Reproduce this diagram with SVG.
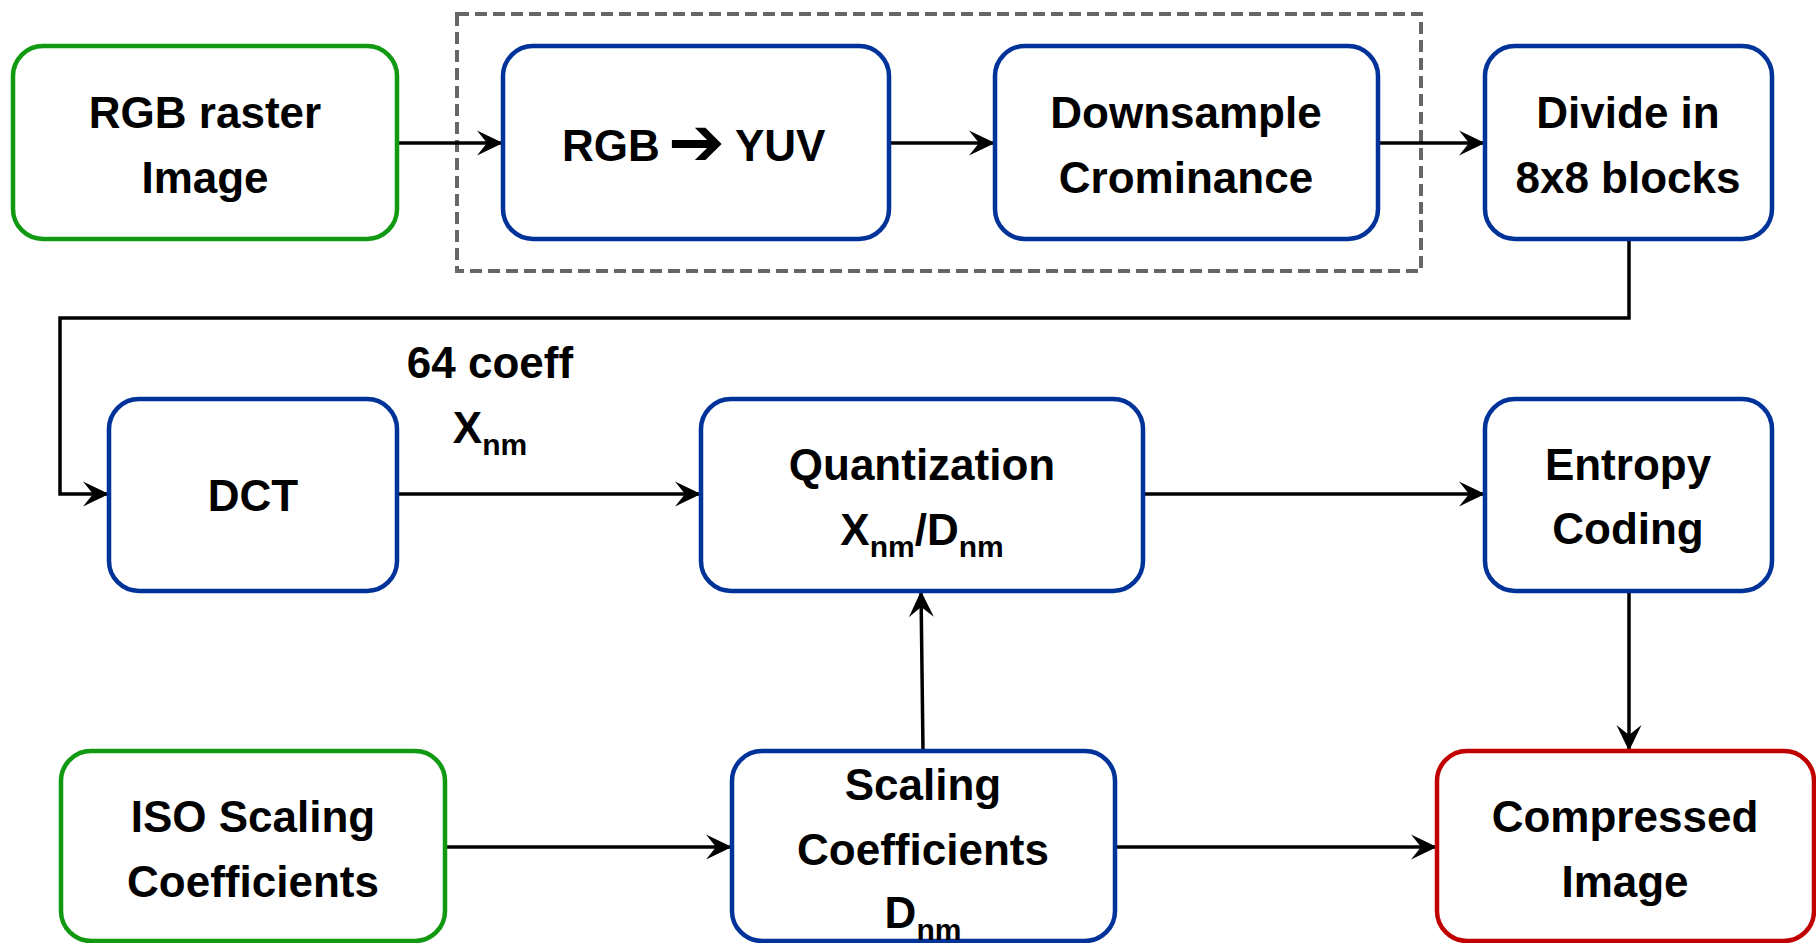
<svg xmlns="http://www.w3.org/2000/svg" width="1816" height="943" viewBox="0 0 1816 943">
  <style>
    .box { fill: #ffffff; stroke-width: 4.5; }
    .src { stroke: #119911; }
    .step { stroke: #003399; }
    .out { stroke: #c00000; }
    .lbl { font-family: "Liberation Sans", Arial, sans-serif; font-weight: bold; font-size: 44px; fill: #000000; text-anchor: middle; }
    .sub { font-size: 30px; }
    .wire { fill: none; stroke: #000000; stroke-width: 3.5; }
  </style>
  <defs>
    <marker id="head" markerUnits="userSpaceOnUse" viewBox="-27 -14 28 28" markerWidth="28" markerHeight="28" refX="0" refY="0" orient="auto">
      <path d="M0,0 L-26,-12.5 L-16,0 L-26,12.5 Z" fill="#000000"/>
    </marker>
  </defs>

  <rect width="1816" height="943" fill="#ffffff"/>

  <!-- colour-space stage grouping -->
  <rect id="colour-stage" x="457" y="14" width="964" height="257" fill="none" stroke="#666666" stroke-width="4" stroke-dasharray="12 6"/>

  <!-- connectors -->
  <g id="connectors">
    <line class="wire" x1="397" y1="143" x2="503" y2="143" marker-end="url(#head)"/>
    <line class="wire" x1="889" y1="143" x2="995" y2="143" marker-end="url(#head)"/>
    <line class="wire" x1="1378" y1="143" x2="1485" y2="143" marker-end="url(#head)"/>
    <polyline class="wire" points="1629,240 1629,318 60,318 60,494 109,494" marker-end="url(#head)"/>
    <line class="wire" x1="397" y1="494" x2="701" y2="494" marker-end="url(#head)"/>
    <line class="wire" x1="1143" y1="494" x2="1485" y2="494" marker-end="url(#head)"/>
    <line class="wire" x1="1629" y1="591" x2="1629" y2="751" marker-end="url(#head)"/>
    <line class="wire" x1="923" y1="751" x2="921" y2="591" marker-end="url(#head)"/>
    <line class="wire" x1="445" y1="847" x2="732" y2="847" marker-end="url(#head)"/>
    <line class="wire" x1="1115" y1="847" x2="1437" y2="847" marker-end="url(#head)"/>
  </g>

  <!-- edge label -->
  <g id="coeff-label">
    <text class="lbl" x="490" y="378">64 coeff</text>
    <text class="lbl" x="490" y="443">X<tspan class="sub" dy="12">nm</tspan></text>
  </g>

  <g id="rgb-raster">
    <rect class="box src" x="13" y="46" width="384" height="193" rx="30"/>
    <text class="lbl" x="205" y="128">RGB raster</text>
    <text class="lbl" x="205" y="193">Image</text>
  </g>

  <g id="rgb-yuv">
    <rect class="box step" x="503" y="46" width="386" height="193" rx="30"/>
    <text class="lbl" style="text-anchor:start" y="161"><tspan x="562">RGB</tspan><tspan x="668" y="165" font-family="DejaVu Sans, sans-serif" font-size="68">➔</tspan><tspan x="735" y="161">YUV</tspan></text>
  </g>

  <g id="downsample">
    <rect class="box step" x="995" y="46" width="383" height="193" rx="30"/>
    <text class="lbl" x="1186" y="128">Downsample</text>
    <text class="lbl" x="1186" y="193">Crominance</text>
  </g>

  <g id="divide">
    <rect class="box step" x="1485" y="46" width="287" height="193" rx="30"/>
    <text class="lbl" x="1628" y="128">Divide in</text>
    <text class="lbl" x="1628" y="193">8x8 blocks</text>
  </g>

  <g id="dct">
    <rect class="box step" x="109" y="399" width="288" height="192" rx="30"/>
    <text class="lbl" x="253" y="511">DCT</text>
  </g>

  <g id="quantization">
    <rect class="box step" x="701" y="399" width="442" height="192" rx="30"/>
    <text class="lbl" x="922" y="480">Quantization</text>
    <text class="lbl" x="922" y="545">X<tspan class="sub" dy="12">nm</tspan><tspan dy="-12">/D</tspan><tspan class="sub" dy="12">nm</tspan></text>
  </g>

  <g id="entropy">
    <rect class="box step" x="1485" y="399" width="287" height="192" rx="30"/>
    <text class="lbl" x="1628" y="480">Entropy</text>
    <text class="lbl" x="1628" y="544">Coding</text>
  </g>

  <g id="iso-scaling">
    <rect class="box src" x="61" y="751" width="384" height="190" rx="30"/>
    <text class="lbl" x="253" y="832">ISO Scaling</text>
    <text class="lbl" x="253" y="897">Coefficients</text>
  </g>

  <g id="scaling">
    <rect class="box step" x="732" y="751" width="383" height="190" rx="30"/>
    <text class="lbl" x="923" y="800">Scaling</text>
    <text class="lbl" x="923" y="865">Coefficients</text>
    <text class="lbl" x="923" y="928">D<tspan class="sub" dy="12">nm</tspan></text>
  </g>

  <g id="compressed">
    <rect class="box out" x="1437" y="751" width="377" height="190" rx="30"/>
    <text class="lbl" x="1625" y="832">Compressed</text>
    <text class="lbl" x="1625" y="897">Image</text>
  </g>
</svg>
